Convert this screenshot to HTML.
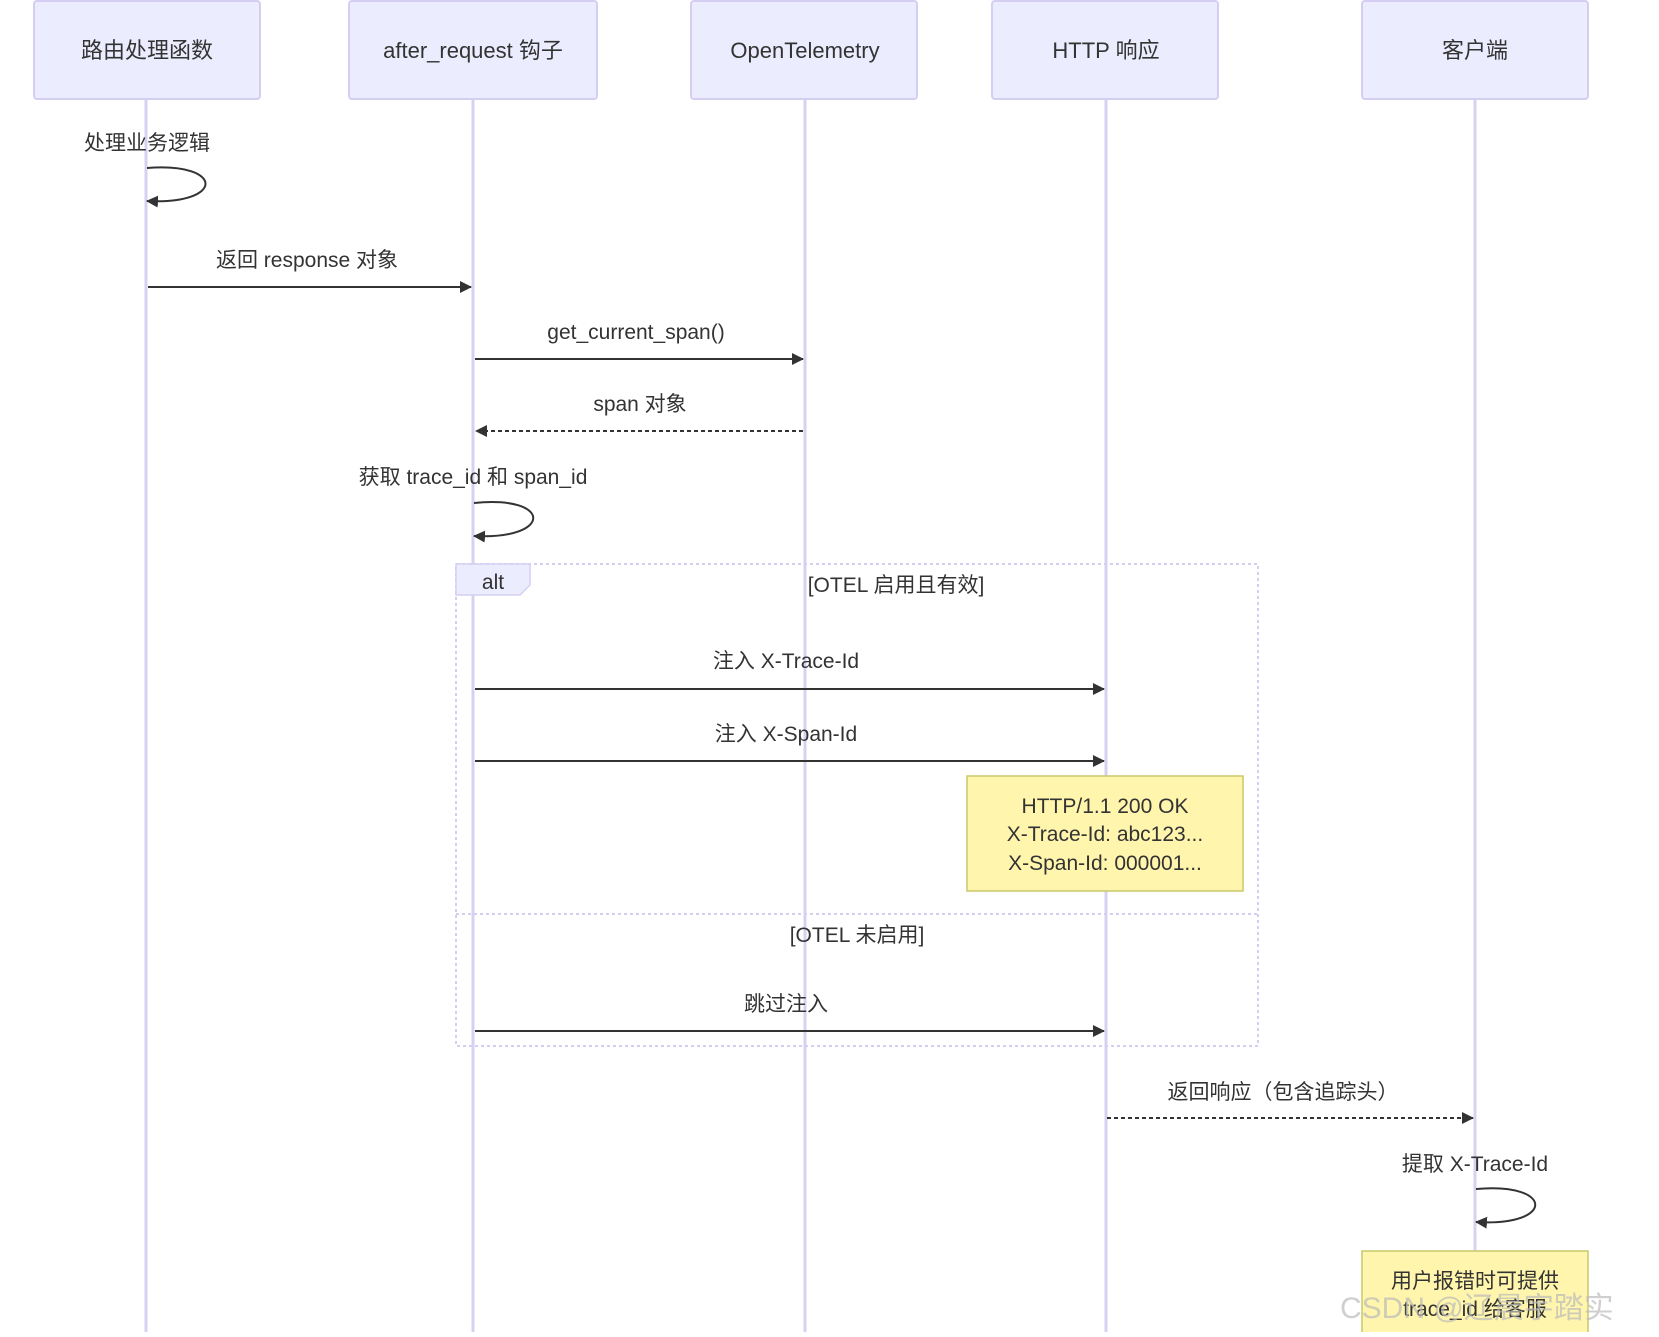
<!DOCTYPE html>
<html><head><meta charset="utf-8"><style>
html,body{margin:0;padding:0;background:#fff;}
svg text{font-family:"Liberation Sans","Noto Sans CJK SC",sans-serif;fill:#333;}
</style></head><body>
<svg width="1659" height="1332" viewBox="0 0 1659 1332" xmlns="http://www.w3.org/2000/svg">
<defs>
<marker id="ah" markerWidth="12" markerHeight="12" refX="11" refY="6" orient="auto" markerUnits="userSpaceOnUse">
<path d="M0,0 L12,6 L0,12 z" fill="#333"/></marker>
<marker id="ah2" markerWidth="16" markerHeight="14" refX="2" refY="7" orient="auto" markerUnits="userSpaceOnUse">
<path d="M16,0 L0,7 L16,14 z" fill="#333"/></marker>
</defs>
<!-- lifelines -->
<g stroke="#d7d0f0" stroke-width="3">
<line x1="146" y1="99" x2="146" y2="1332"/>
<line x1="473" y1="99" x2="473" y2="1332"/>
<line x1="805" y1="99" x2="805" y2="1332"/>
<line x1="1106" y1="99" x2="1106" y2="1332"/>
<line x1="1475" y1="99" x2="1475" y2="1251"/>
</g>
<!-- actors -->
<g fill="#ececff" stroke="#d4cff2" stroke-width="2">
<rect x="34" y="1" width="226" height="98" rx="3"/>
<rect x="349" y="1" width="248" height="98" rx="3"/>
<rect x="691" y="1" width="226" height="98" rx="3"/>
<rect x="992" y="1" width="226" height="98" rx="3"/>
<rect x="1362" y="1" width="226" height="98" rx="3"/>
</g>
<g font-size="22" text-anchor="middle">
<text x="147" y="58">路由处理函数</text>
<text x="473" y="58">after_request 钩子</text>
<text x="805" y="58">OpenTelemetry</text>
<text x="1106" y="58">HTTP 响应</text>
<text x="1475" y="58">客户端</text>
</g>
<!-- alt box -->
<rect x="456" y="564" width="802" height="482" fill="none" stroke="#d4cff2" stroke-width="2" stroke-dasharray="3,3"/>
<line x1="456" y1="914" x2="1258" y2="914" stroke="#d4cff2" stroke-width="2" stroke-dasharray="3,3"/>
<path d="M456,564 L530,564 L530,585 L520,595 L456,595 z" fill="#ececff" stroke="#d4cff2" stroke-width="1.5"/>
<g font-size="21" text-anchor="middle">
<text x="493" y="589">alt</text>
<text x="896" y="592">[OTEL 启用且有效]</text>
<text x="857" y="942">[OTEL 未启用]</text>
</g>
<!-- messages -->
<g stroke="#333" stroke-width="2" fill="none">
<path d="M147,168 C225,162 225,205 147,201" marker-end="url(#ah)"/>
<line x1="148" y1="287" x2="471" y2="287" marker-end="url(#ah)"/>
<line x1="475" y1="359" x2="803" y2="359" marker-end="url(#ah)"/>
<line x1="803" y1="431" x2="476" y2="431" stroke-dasharray="4,3" marker-end="url(#ah)"/>
<path d="M474,503 C553,495 553,540 474,536" marker-end="url(#ah)"/>
<line x1="475" y1="689" x2="1104" y2="689" marker-end="url(#ah)"/>
<line x1="475" y1="761" x2="1104" y2="761" marker-end="url(#ah)"/>
<line x1="475" y1="1031" x2="1104" y2="1031" marker-end="url(#ah)"/>
<line x1="1107" y1="1118" x2="1473" y2="1118" stroke-dasharray="4,3" marker-end="url(#ah)"/>
<path d="M1476,1189 C1555,1182 1555,1227 1476,1222" marker-end="url(#ah)"/>
</g>
<g font-size="21" text-anchor="middle">
<text x="147" y="150">处理业务逻辑</text>
<text x="307" y="267">返回 response 对象</text>
<text x="636" y="339">get_current_span()</text>
<text x="640" y="411">span 对象</text>
<text x="473" y="484">获取 trace_id 和 span_id</text>
<text x="786" y="668">注入 X-Trace-Id</text>
<text x="786" y="741">注入 X-Span-Id</text>
<text x="786" y="1011">跳过注入</text>
<text x="1283" y="1099">返回响应（包含追踪头）</text>
<text x="1475" y="1171">提取 X-Trace-Id</text>
</g>
<!-- notes -->
<rect x="967" y="776" width="276" height="115" fill="#fff5ad" stroke="#c9c96a" stroke-width="1.5"/>
<g font-size="21" text-anchor="middle">
<text x="1105" y="813">HTTP/1.1 200 OK</text>
<text x="1105" y="841">X-Trace-Id: abc123...</text>
<text x="1105" y="870">X-Span-Id: 000001...</text>
</g>
<rect x="1362" y="1251" width="226" height="100" fill="#fff5ad" stroke="#c9c96a" stroke-width="1.5"/>
<g font-size="21" text-anchor="middle">
<text x="1475" y="1288">用户报错时可提供</text>
<text x="1475" y="1316">trace_id 给客服</text>
</g>
<text x="1340" y="1318" font-size="30" style="fill:#bbb;opacity:0.7">CSDN @辽晨宇踏实</text>
</svg>
</body></html>
